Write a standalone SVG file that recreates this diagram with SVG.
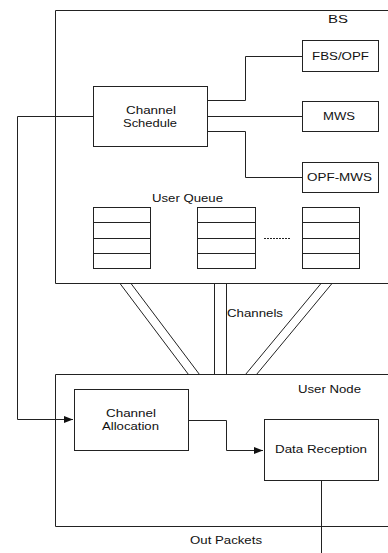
<svg xmlns="http://www.w3.org/2000/svg" width="388" height="553" viewBox="0 0 388 553">
<style>
.b{fill:#fff;stroke:#222;stroke-width:1}
.l{fill:none;stroke:#222;stroke-width:1}
text{font-family:"Liberation Sans",Arial,sans-serif;font-size:11px;fill:#111}
</style>
<defs>
<marker id="ah" markerWidth="10" markerHeight="8" refX="9" refY="4" orient="auto" markerUnits="userSpaceOnUse">
<path d="M0,0.5 L9,4 L0,7.5 Z" fill="#111"/>
</marker>
</defs>
<rect width="388" height="553" fill="#fff"/>
<g id="bs">
<path class="l" d="M55.5,283.5 V10.5 H388"/>
<path class="l" d="M55.5,283.5 H388"/>
<text x="328" y="22.5" textLength="20" lengthAdjust="spacingAndGlyphs">BS</text>
</g>
<g id="usernode">
<path class="l" d="M388,374.5 H55.5 V526.5 H388"/>
<text x="298" y="393" textLength="63" lengthAdjust="spacingAndGlyphs">User Node</text>
</g>
<g id="connectors">
<path class="l" d="M207,100.5 H245.5 V56.5 H302"/>
<path class="l" d="M207,116.5 H302"/>
<path class="l" d="M207,131.5 H245.5 V177.5 H302"/>
<path class="l" d="M93,116.5 H17.5 V419.5 H73" marker-end="url(#ah)"/>
<path class="l" d="M188,420.5 H226.5 V450.5 H263" marker-end="url(#ah)"/>
<path class="l" d="M321.5,480 V553"/>
<path class="l" d="M120,283.5 L188.5,374.5 M131,283.5 L199.5,374.5"/>
<path class="l" d="M214.5,283.5 V374.5 M226.5,283.5 V374.5"/>
<path class="l" d="M321,283.5 L245.5,374.5 M332,283.5 L256.5,374.5"/>
<text x="227" y="317" textLength="56" lengthAdjust="spacingAndGlyphs">Channels</text>
<text x="190" y="544" textLength="72" lengthAdjust="spacingAndGlyphs">Out Packets</text>
</g>
<g id="channel-schedule">
<rect class="b" x="93.5" y="86.5" width="114" height="60"/>
<text x="126" y="113.5" textLength="50" lengthAdjust="spacingAndGlyphs">Channel</text>
<text x="123" y="126.5" textLength="54" lengthAdjust="spacingAndGlyphs">Schedule</text>
</g>
<g id="fbs-opf">
<rect class="b" x="302.5" y="40.5" width="76" height="31"/>
<text x="312" y="60" textLength="57" lengthAdjust="spacingAndGlyphs">FBS/OPF</text>
</g>
<g id="mws">
<rect class="b" x="302.5" y="101.5" width="76" height="30"/>
<text x="323" y="120" textLength="32" lengthAdjust="spacingAndGlyphs">MWS</text>
</g>
<g id="opf-mws">
<rect class="b" x="302.5" y="162.5" width="76" height="30"/>
<text x="307" y="181" textLength="65" lengthAdjust="spacingAndGlyphs">OPF-MWS</text>
</g>
<g id="user-queue">
<text x="152" y="202" textLength="71" lengthAdjust="spacingAndGlyphs">User Queue</text>
<rect class="b" x="93.5" y="207.5" width="57" height="61"/>
<path class="l" d="M93.5,222.5 H150.5 M93.5,238.5 H150.5 M93.5,253.5 H150.5"/>
<rect class="b" x="197.5" y="207.5" width="58" height="61"/>
<path class="l" d="M197.5,222.5 H255.5 M197.5,238.5 H255.5 M197.5,253.5 H255.5"/>
<rect class="b" x="302.5" y="207.5" width="57" height="61"/>
<path class="l" d="M302.5,222.5 H359.5 M302.5,238.5 H359.5 M302.5,253.5 H359.5"/>
<path class="l" d="M264,238.5 H290" stroke-dasharray="2,1"/>
</g>
<g id="channel-allocation">
<rect class="b" x="74.5" y="389.5" width="114" height="61"/>
<text x="106" y="417" textLength="50" lengthAdjust="spacingAndGlyphs">Channel</text>
<text x="102" y="429.5" textLength="57" lengthAdjust="spacingAndGlyphs">Allocation</text>
</g>
<g id="data-reception">
<rect class="b" x="264.5" y="419.5" width="114" height="61"/>
<text x="275" y="453" textLength="92" lengthAdjust="spacingAndGlyphs">Data Reception</text>
</g>
</svg>
